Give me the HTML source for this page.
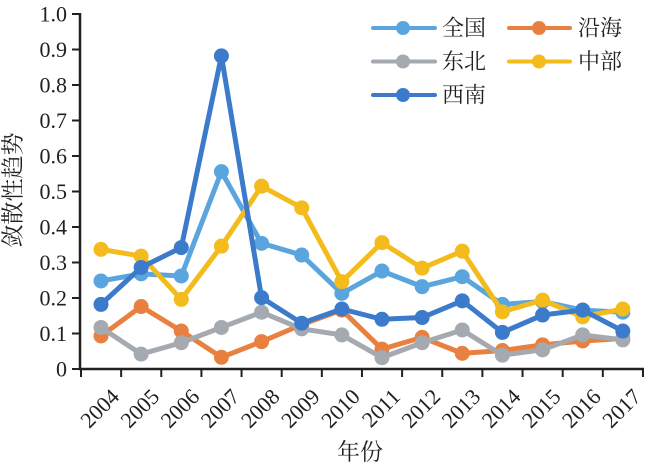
<!DOCTYPE html>
<html>
<head>
<meta charset="utf-8">
<style>
html,body{margin:0;padding:0;background:#fff;}
svg{display:block;}
.tl{font-family:"Liberation Serif","Noto Serif CJK SC",serif;font-size:22px;fill:#231f20;}
.cj{font-family:"Liberation Serif","Noto Serif CJK SC",serif;fill:#231f20;}
</style>
</head>
<body>
<svg width="650" height="469" viewBox="0 0 650 469" xmlns="http://www.w3.org/2000/svg">
<defs>
<marker id="m1" markerUnits="userSpaceOnUse" markerWidth="20" markerHeight="20" refX="10" refY="10" viewBox="0 0 20 20"><circle cx="10" cy="10" r="7.5" fill="#5AA5DE"/></marker>
<marker id="m2" markerUnits="userSpaceOnUse" markerWidth="20" markerHeight="20" refX="10" refY="10" viewBox="0 0 20 20"><circle cx="10" cy="10" r="7.5" fill="#E8813F"/></marker>
<marker id="m3" markerUnits="userSpaceOnUse" markerWidth="20" markerHeight="20" refX="10" refY="10" viewBox="0 0 20 20"><circle cx="10" cy="10" r="7.5" fill="#A5A9B0"/></marker>
<marker id="m4" markerUnits="userSpaceOnUse" markerWidth="20" markerHeight="20" refX="10" refY="10" viewBox="0 0 20 20"><circle cx="10" cy="10" r="7.5" fill="#F3BC1C"/></marker>
<marker id="m5" markerUnits="userSpaceOnUse" markerWidth="20" markerHeight="20" refX="10" refY="10" viewBox="0 0 20 20"><circle cx="10" cy="10" r="7.5" fill="#3C7BCB"/></marker>
</defs>

<!-- axes -->
<g stroke="#231f20" stroke-width="2.5" fill="none">
<line x1="80" y1="13" x2="80" y2="370"/>
<line x1="79" y1="369" x2="644" y2="369"/>
</g>
<g stroke="#231f20" stroke-width="2">
<line x1="72" y1="369" x2="80" y2="369"/>
<line x1="72" y1="333.5" x2="80" y2="333.5"/>
<line x1="72" y1="298" x2="80" y2="298"/>
<line x1="72" y1="262.5" x2="80" y2="262.5"/>
<line x1="72" y1="227" x2="80" y2="227"/>
<line x1="72" y1="191.5" x2="80" y2="191.5"/>
<line x1="72" y1="156" x2="80" y2="156"/>
<line x1="72" y1="120.5" x2="80" y2="120.5"/>
<line x1="72" y1="85" x2="80" y2="85"/>
<line x1="72" y1="49.5" x2="80" y2="49.5"/>
<line x1="72" y1="14" x2="80" y2="14"/>

<line x1="81" y1="369" x2="81" y2="377"/>
<line x1="121.14" y1="369" x2="121.14" y2="377"/>
<line x1="161.28" y1="369" x2="161.28" y2="377"/>
<line x1="201.42" y1="369" x2="201.42" y2="377"/>
<line x1="241.56" y1="369" x2="241.56" y2="377"/>
<line x1="281.7" y1="369" x2="281.7" y2="377"/>
<line x1="321.84" y1="369" x2="321.84" y2="377"/>
<line x1="361.98" y1="369" x2="361.98" y2="377"/>
<line x1="402.12" y1="369" x2="402.12" y2="377"/>
<line x1="442.26" y1="369" x2="442.26" y2="377"/>
<line x1="482.4" y1="369" x2="482.4" y2="377"/>
<line x1="522.54" y1="369" x2="522.54" y2="377"/>
<line x1="562.68" y1="369" x2="562.68" y2="377"/>
<line x1="602.82" y1="369" x2="602.82" y2="377"/>
<line x1="642.96" y1="369" x2="642.96" y2="377"/>
</g>

<!-- y tick labels -->
<g class="tl" text-anchor="end">
<text x="67" y="376.5">0</text>
<text x="67" y="341">0.1</text>
<text x="67" y="305.5">0.2</text>
<text x="67" y="270">0.3</text>
<text x="67" y="234.5">0.4</text>
<text x="67" y="199">0.5</text>
<text x="67" y="163.5">0.6</text>
<text x="67" y="128">0.7</text>
<text x="67" y="92.5">0.8</text>
<text x="67" y="57">0.9</text>
<text x="67" y="21.5">1.0</text>
</g>

<!-- x tick labels -->
<g class="tl" text-anchor="end">
<text x="120.5" y="398" transform="rotate(-45 120.5 398)">2004</text>
<text x="160.64" y="398" transform="rotate(-45 160.64 398)">2005</text>
<text x="200.78" y="398" transform="rotate(-45 200.78 398)">2006</text>
<text x="240.92" y="398" transform="rotate(-45 240.92 398)">2007</text>
<text x="281.06" y="398" transform="rotate(-45 281.06 398)">2008</text>
<text x="321.2" y="398" transform="rotate(-45 321.2 398)">2009</text>
<text x="361.34" y="398" transform="rotate(-45 361.34 398)">2010</text>
<text x="401.48" y="398" transform="rotate(-45 401.48 398)">2011</text>
<text x="441.62" y="398" transform="rotate(-45 441.62 398)">2012</text>
<text x="481.76" y="398" transform="rotate(-45 481.76 398)">2013</text>
<text x="521.9" y="398" transform="rotate(-45 521.9 398)">2014</text>
<text x="562.04" y="398" transform="rotate(-45 562.04 398)">2015</text>
<text x="602.18" y="398" transform="rotate(-45 602.18 398)">2016</text>
<text x="642.32" y="398" transform="rotate(-45 642.32 398)">2017</text>
</g>

<!-- axis titles -->
<text class="cj" font-size="23" text-anchor="middle" dominant-baseline="central" transform="translate(13 190) rotate(-90)">敛散性趋势</text>
<text class="cj" font-size="23" x="360" y="452" text-anchor="middle" dominant-baseline="central">年份</text>

<!-- series -->
<g fill="none" stroke-width="5" stroke-linejoin="round" stroke-linecap="round">
<polyline stroke="#5AA5DE" marker-start="url(#m1)" marker-mid="url(#m1)" marker-end="url(#m1)"
 points="101,280.96 141.14,273.86 181.28,275.99 221.42,171.62 261.56,243.33 301.7,255.04 341.84,293.38 381.98,271.02 422.12,286.64 462.26,276.7 502.4,304.39 542.54,301.55 582.68,310.07 622.82,312.2"/>
<polyline stroke="#E8813F" marker-start="url(#m2)" marker-mid="url(#m2)" marker-end="url(#m2)"
 points="101,335.98 141.14,306.52 181.28,331.01 221.42,357.28 261.56,341.66 301.7,324.62 341.84,310.07 381.98,349.12 422.12,337.4 462.26,353.38 502.4,350.54 542.54,344.86 582.68,340.95 622.82,338.47"/>
<polyline stroke="#A5A9B0" marker-start="url(#m3)" marker-mid="url(#m3)" marker-end="url(#m3)"
 points="101,327.46 141.14,354.09 181.28,342.73 221.42,327.46 261.56,312.2 301.7,328.88 341.84,334.92 381.98,357.64 422.12,342.73 462.26,329.95 502.4,355.15 542.54,349.83 582.68,334.92 622.82,339.89"/>
<polyline stroke="#F3BC1C" marker-start="url(#m4)" marker-mid="url(#m4)" marker-end="url(#m4)"
 points="101,249.36 141.14,256.11 181.28,299.42 221.42,246.17 261.56,186.17 301.7,207.83 341.84,281.67 381.98,242.62 422.12,268.18 462.26,251.14 502.4,311.84 542.54,300.13 582.68,316.81 622.82,309"/>
<polyline stroke="#3C7BCB" marker-start="url(#m5)" marker-mid="url(#m5)" marker-end="url(#m5)"
 points="101,304.39 141.14,267.47 181.28,247.59 221.42,55.89 261.56,297.64 301.7,323.2 341.84,309 381.98,319.3 422.12,317.52 462.26,300.84 502.4,332.43 542.54,315.04 582.68,310.07 622.82,331.01"/>
</g>

<!-- legend -->
<g stroke-width="4" stroke-linecap="round">
<line x1="373" y1="28" x2="435" y2="28" stroke="#5AA5DE"/>
<line x1="373" y1="61.5" x2="435" y2="61.5" stroke="#A5A9B0"/>
<line x1="373" y1="95" x2="435" y2="95" stroke="#3C7BCB"/>
<line x1="509" y1="28" x2="570" y2="28" stroke="#E8813F"/>
<line x1="509" y1="61.5" x2="570" y2="61.5" stroke="#F3BC1C"/>
</g>
<circle cx="403" cy="28" r="7" fill="#5AA5DE"/>
<circle cx="403" cy="61.5" r="7" fill="#A5A9B0"/>
<circle cx="403" cy="95" r="7" fill="#3C7BCB"/>
<circle cx="539" cy="28" r="7" fill="#E8813F"/>
<circle cx="539" cy="61.5" r="7" fill="#F3BC1C"/>
<g class="cj" font-size="22" dominant-baseline="central">
<text x="442" y="28">全国</text>
<text x="442" y="61.5">东北</text>
<text x="442" y="95">西南</text>
<text x="578" y="28">沿海</text>
<text x="578" y="61.5">中部</text>
</g>
</svg>
</body>
</html>
